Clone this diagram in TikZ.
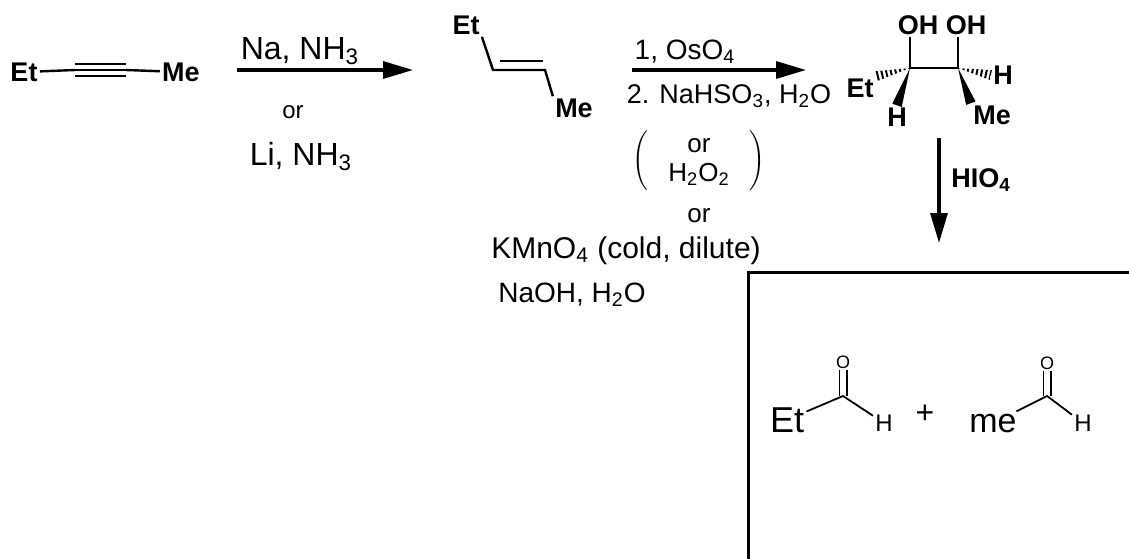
\documentclass[tikz,border=0pt]{standalone}
\usepackage{fontspec}
\setmainfont{Liberation Sans}
\usetikzlibrary{arrows.meta,calc}

\begin{document}
\begin{tikzpicture}
  [x=0.5pt, y=-0.5pt,
   every node/.style={inner sep=1pt},
   atom/.style={font=\fontsize{13.5}{15}\selectfont\bfseries},
   reagent/.style={font=\fontsize{#1}{#1}\selectfont, anchor=base},
   reagent/.default=13,
   oxy/.style={font=\fontsize{9}{9}\selectfont, inner sep=0.5pt},
   bond/.style={line width=1.2pt},
   thin bond/.style={line width=0.9pt},
   rxn/.style={line width=1.6pt, -{Triangle[length=15pt, width=8.5pt]}},
   frame/.style={line width=1.5pt}]
  \useasboundingbox (0,0) rectangle (1129,558);

  % alkyne
  \node[atom] (et1) at (24,72) {Et};
  \node[atom] (me1) at (181,72) {Me};
  \coordinate (t1) at (75,70);
  \coordinate (t2) at (126,70);
  \draw[bond] (et1) -- (t1) (t2) -- (me1);
  \draw[bond] (t1) -- (t2)
    ([yshift=3pt]t1) -- ([yshift=3pt]t2)
    ([yshift=-3pt]t1) -- ([yshift=-3pt]t2);

  % step 1
  \coordinate (r1a) at (237,70);
  \coordinate (r1b) at (413,70);
  \draw[rxn] (r1a) -- (r1b);
  \node[reagent=16] (na) at (300,59) {Na, NH\textsubscript{3}};
  \node[reagent=12] (or1) at (293,118) {or};
  \node[reagent=16] (li) at (301,165) {Li, NH\textsubscript{3}};

  % trans alkene
  \node[atom] (et2) at (466,25) {Et};
  \node[atom] (me2) at (574,108) {Me};
  \coordinate (d1) at (493,70);
  \coordinate (d2) at (545,70);
  \draw[bond] (et2.south east) -- (d1) -- (d2) -- (me2.north west);
  \draw[bond] ([shift={(7,-9)}]d1) -- ([shift={(-2,-9)}]d2);

  % step 2
  \coordinate (r2a) at (632,70);
  \coordinate (r2b) at (806,70);
  \draw[rxn] (r2a) -- (r2b);
  \node[reagent=14] (os) at (685,59) {1, OsO\textsubscript{4}};
  \node[reagent=13.5] (nahso) at (729,103) {2. NaHSO\textsubscript{3}, H\textsubscript{2}O};
  \node[reagent=13, anchor=center, inner sep=0pt] (per) at (699,161)
    {\def\arraystretch{1.1}$\left(\begin{tabular}{@{\hspace{10pt}}c@{\hspace{10pt}}}or\\H\textsubscript{2}O\textsubscript{2}\end{tabular}\right)$};
  \node[reagent=13] (or2) at (699,222) {or};
  \node[reagent=15] (kmno) at (626,258) {KMnO\textsubscript{4} (cold, dilute)};
  \node[reagent=14] (naoh) at (572,302) {NaOH, H\textsubscript{2}O};

  % diol
  \coordinate (c1) at (910,68);
  \coordinate (c2) at (958,68);
  \node[atom] (oh1) at (918,25) {OH};
  \node[atom] (oh2) at (966,25) {OH};
  \node[atom] (et3) at (860,88) {Et};
  \node[atom] (h1) at (897,117) {H};
  \node[atom] (h2) at (1003,75) {H};
  \node[atom] (me3) at (992,115) {Me};
  \draw[bond] (oh1.south -| c1) -- (c1) -- (c2) -- (oh2.south -| c2);
  \begin{scope}
    \clip (c1) -- ($(et3.north east)!2.5pt!90:(c1)$) -- ($(et3.north east)!2.5pt!-90:(c1)$) -- cycle;
    \draw[line width=8pt, dash pattern=on 1pt off 1.3pt] (c1) -- (et3.north east);
  \end{scope}
  \begin{scope}
    \clip (c2) -- ($(h2.west)!2.5pt!90:(c2)$) -- ($(h2.west)!2.5pt!-90:(c2)$) -- cycle;
    \draw[line width=8pt, dash pattern=on 1pt off 1.3pt] (c2) -- (h2.west);
  \end{scope}
  \fill (c1) -- ($(h1.north)!2.5pt!90:(c1)$) -- ($(h1.north)!2.5pt!-90:(c1)$) -- cycle;
  \fill (c2) -- ($(me3.north west)!2.5pt!90:(c2)$) -- ($(me3.north west)!2.5pt!-90:(c2)$) -- cycle;

  % step 3
  \coordinate (r3a) at (939,138);
  \coordinate (r3b) at (939,243);
  \draw[rxn] (r3a) -- (r3b);
  \node[atom] (hio) at (981,180) {HIO\textsubscript{4}};

  % product box
  \draw[frame] (1130,272) -- (748,272) -- (748,560);
  \node[reagent=18] (et4) at (787,432) {Et};
  \coordinate (k1) at (843,396);
  \node[oxy] (o1) at (843,362) {O};
  \node[reagent=12, anchor=center] (h3) at (884,423) {H};
  \draw[thin bond] (et4) -- (k1) -- (h3);
  \draw[thin bond] ([xshift=-1.8pt]k1) -- ([xshift=-1.8pt]o1.south)
    ([xshift=1.8pt]k1) -- ([xshift=1.8pt]o1.south);
  \node[reagent=16, anchor=center] (plus) at (925,414) {+};
  \node[reagent=17] (me4) at (993,432) {me};
  \coordinate (k2) at (1047,396);
  \node[oxy] (o2) at (1047,363) {O};
  \node[reagent=12, anchor=center] (h4) at (1083,423) {H};
  \draw[thin bond] (me4) -- (k2) -- (h4);
  \draw[thin bond] ([xshift=-1.8pt]k2) -- ([xshift=-1.8pt]o2.south)
    ([xshift=1.8pt]k2) -- ([xshift=1.8pt]o2.south);
\end{tikzpicture}
\end{document}
